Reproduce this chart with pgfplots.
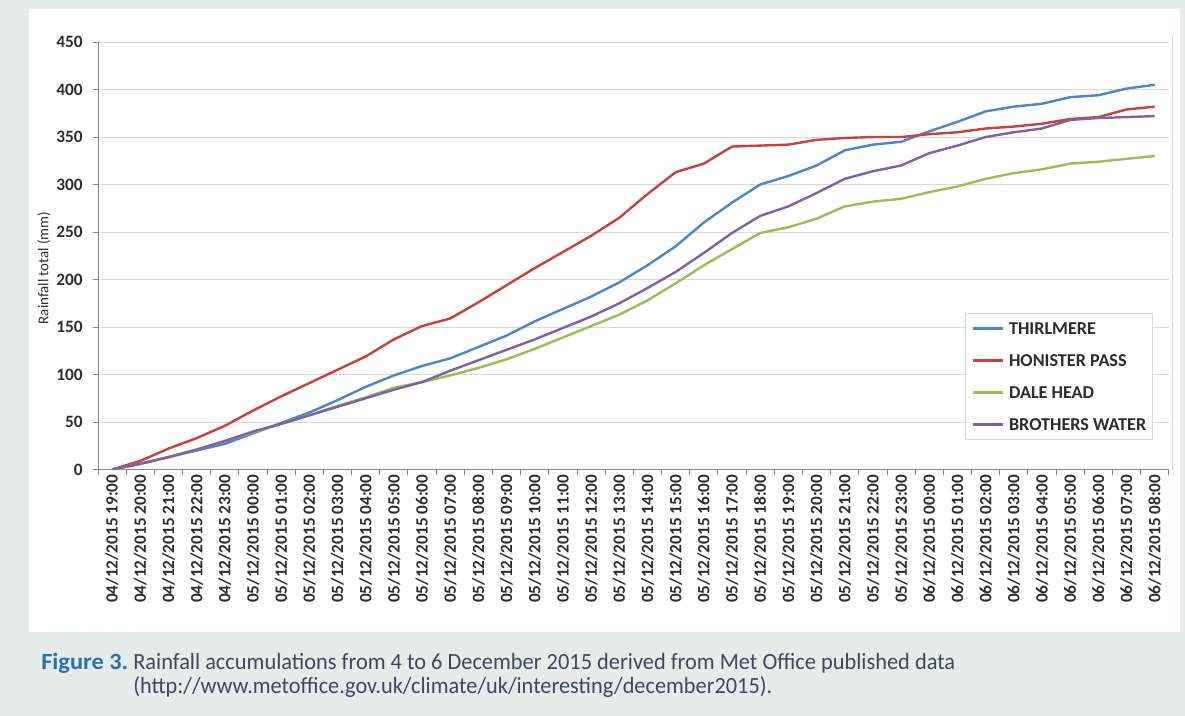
\documentclass[border=0pt]{standalone}
\usepackage{pgfplots}
\pgfplotsset{compat=1.18}
\usepackage{pgfplotstable}
\usepackage{fontspec}
\setmainfont{Carlito}
\definecolor{bgc}{RGB}{230,236,234}
\definecolor{gridc}{RGB}{217,217,217}
\definecolor{axc}{RGB}{134,134,134}
\definecolor{tickc}{RGB}{45,45,45}
\definecolor{cblue}{RGB}{74,134,200}
\definecolor{cred}{RGB}{200,65,60}
\definecolor{cgreen}{RGB}{150,192,80}
\definecolor{cpurple}{RGB}{128,96,166}
\definecolor{figblue}{RGB}{40,110,185}
\definecolor{captc}{RGB}{62,74,92}
\definecolor{legc}{RGB}{217,217,217}

\pgfplotstableread{
i T H D B
0 0 0 0 0
1 6 9 6 6
2 13 22 13 13
3 20 33 21 21
4 27 46 30 30
5 38 62 39 40
6 49 77 48 48
7 60 91 57 57
8 73 105 67 66
9 87 119 76 75
10 99 137 86 84
11 109 151 92 92
12 117 159 99 104
13 129 176 107 115
14 141 194 116 126
15 156 212 127 137
16 169 229 139 149
17 182 246 151 161
18 197 265 163 175
19 215 290 178 191
20 235 313 196 208
21 260 322 215 228
22 281 340 232 249
23 300 341 249 267
24 309 342 255 277
25 320 347 264 291
26 336 349 277 306
27 342 350 282 314
28 345 350 285 320
29 356 353 292 333
30 366 355 298 341
31 377 359 306 350
32 382 361 312 355
33 385 364 316 359
34 392 369 322 368
35 394 371 324 370
36 401 379 327 371
37 405 382 330 372
}\rain

\begin{document}
\begin{tikzpicture}
\begin{scope}[x=0.75pt,y=-0.75pt]
\fill[bgc] (0,0) rectangle (1185,716);
\fill[white] (29,9) rectangle (1180,632);
\coordinate (SW) at (98,469.5);
\draw[gridc, line width=0.75pt] (1172,36) -- (1172,469.5);
\node[rotate=90, inner sep=0pt, text=tickc, font=\fontsize{11.2}{13}\selectfont] at (44,268) {Rainfall total (mm)};
\node[anchor=base west, inner sep=0pt, text=figblue] at (41,669) {\resizebox{65.25pt}{\height}{\fontsize{17.4}{20}\selectfont\bfseries Figure 3.}};
\node[anchor=base west, inner sep=0pt, text=captc] at (133,669) {\resizebox{616.5pt}{\height}{\fontsize{17.4}{20}\selectfont Rainfall accumulations from 4 to 6 December 2015 derived from Met Office published data}};
\node[anchor=base west, inner sep=0pt, text=captc] at (133,693) {\resizebox{479.25pt}{\height}{\fontsize{17.4}{20}\selectfont (http://www.metoffice.gov.uk/climate/uk/interesting/december2015).}};
\end{scope}
\begin{axis}[
  at={(SW)}, anchor=south west,
  scale only axis, width=803.1pt, height=320.6pt,
  xmin=-0.5, xmax=37.5, ymin=0, ymax=450,
  axis x line*=bottom, axis y line*=left,
  axis line style={draw=axc, line width=0.75pt},
  tick align=outside, major tick length=3.75pt,
  tick style={draw=axc, line width=0.75pt},
  ytick={0,50,...,450},
  ymajorgrids, grid style={draw=gridc, line width=0.75pt},
  xtick={-0.5,0.5,...,37.5}, xticklabels={},
  extra x ticks={0,1,...,37},
  extra x tick style={tick style={draw=none}},
  extra x tick labels={04/12/2015 19:00,04/12/2015 20:00,04/12/2015 21:00,04/12/2015 22:00,04/12/2015 23:00,
05/12/2015 00:00,05/12/2015 01:00,05/12/2015 02:00,05/12/2015 03:00,05/12/2015 04:00,05/12/2015 05:00,05/12/2015 06:00,
05/12/2015 07:00,05/12/2015 08:00,05/12/2015 09:00,05/12/2015 10:00,05/12/2015 11:00,05/12/2015 12:00,05/12/2015 13:00,
05/12/2015 14:00,05/12/2015 15:00,05/12/2015 16:00,05/12/2015 17:00,05/12/2015 18:00,05/12/2015 19:00,05/12/2015 20:00,
05/12/2015 21:00,05/12/2015 22:00,05/12/2015 23:00,06/12/2015 00:00,06/12/2015 01:00,06/12/2015 02:00,06/12/2015 03:00,
06/12/2015 04:00,06/12/2015 05:00,06/12/2015 06:00,06/12/2015 07:00,06/12/2015 08:00},
  xticklabel style={rotate=90, anchor=east, inner sep=0pt, text=tickc, font=\fontsize{12.9}{14}\selectfont\bfseries},
  yticklabel style={inner sep=0pt, xshift=-7.5pt, text=tickc, font=\fontsize{13}{15}\selectfont\bfseries},
  /pgf/number format/assume math mode=true,
  legend style={at={(rel axis cs:0.8095,0.366)}, anchor=north west, draw=legc, line width=0.75pt, fill=white,
    font=\fontsize{13.6}{15}\selectfont\bfseries, text=tickc,
    inner xsep=5pt, inner ysep=7pt, row sep=15.5pt, column sep=3.5pt,
    nodes={inner sep=0pt, text height=8.5pt, text depth=0pt}},
  legend cell align=left,
  legend image code/.code={\draw[#1, line width=1.8pt] (0pt,0pt) -- (22.5pt,0pt);},
  every axis plot/.append style={line width=1.8pt, no markers, line join=round},
]
\addplot[cblue] table[x=i, y=T] {\rain};
\addlegendentry{THIRLMERE}
\addplot[cred] table[x=i, y=H] {\rain};
\addlegendentry{HONISTER PASS}
\addplot[cgreen] table[x=i, y=D] {\rain};
\addlegendentry{DALE HEAD}
\addplot[cpurple] table[x=i, y=B] {\rain};
\addlegendentry{BROTHERS WATER}
\end{axis}
\end{tikzpicture}
\end{document}
